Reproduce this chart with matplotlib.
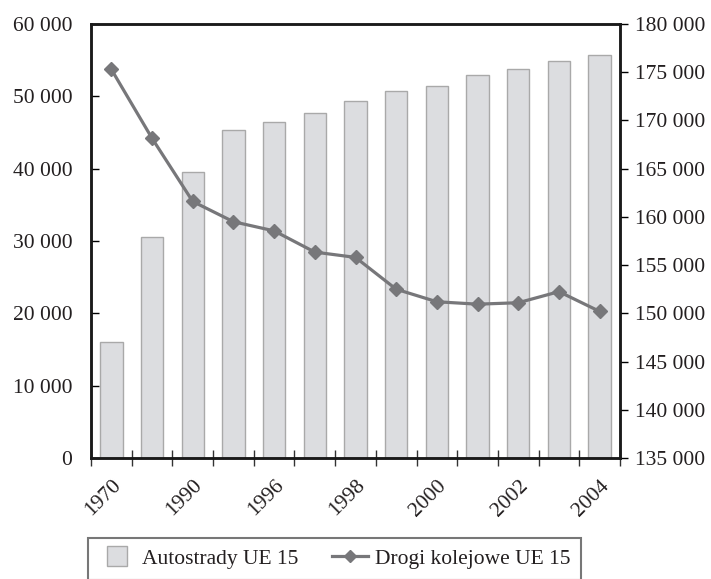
import matplotlib.pyplot as plt
from matplotlib.lines import Line2D
from matplotlib.ticker import FuncFormatter, MultipleLocator
from matplotlib.transforms import ScaledTranslation
import numpy as np

plt.rcParams['font.family'] = ['Liberation Serif', 'DejaVu Serif']

# lata (etykiety co drugi słupek)
lata = ['1970', '1980', '1990', '1995', '1996', '1997', '1998',
        '1999', '2000', '2001', '2002', '2003', '2004']
# długość autostrad UE 15 (km) - oś lewa
autostrady = [16000, 30500, 39600, 45400, 46400, 47650, 49300,
              50700, 51500, 52900, 53750, 54850, 55700]
# długość linii kolejowych UE 15 (km) - oś prawa
koleje = [175300, 168150, 161600, 159500, 158550, 156350, 155800,
          152500, 151200, 150950, 151100, 152250, 150200]

kolor_tekstu = '#231f20'
fmt = FuncFormatter(lambda v, p: f'{v:,.0f}'.replace(',', ' '))

fig = plt.figure(figsize=(7.11, 5.79), dpi=100)
ax = fig.add_axes([0.128, 0.209, 0.744, 0.7495])
ax2 = ax.twinx()

x = np.arange(len(lata))
ax.bar(x, autostrady, width=0.55, color='#dcdde0', edgecolor='#a9a9a9',
       linewidth=1.0, zorder=2)
ax2.plot(x, koleje, color='#77777a', linewidth=2.3, marker='D',
         markersize=7, zorder=3)

ax.set_xlim(-0.5, len(lata) - 0.5)
ax.set_ylim(0, 60000)
ax2.set_ylim(135000, 180000)
ax.yaxis.set_major_locator(MultipleLocator(10000))
ax2.yaxis.set_major_locator(MultipleLocator(5000))
ax.yaxis.set_major_formatter(fmt)
ax2.yaxis.set_major_formatter(fmt)

# ticki na granicach kategorii, podpisy na środku co drugiego słupka
ax.set_xticks(np.arange(len(lata) + 1) - 0.5)
ax.set_xticklabels([])
ax.set_xticks(x[::2], minor=True)
ax.set_xticklabels(lata[::2], minor=True, rotation=45, ha='right',
                   rotation_mode='anchor')
przesun = ScaledTranslation(4 / 72, 0, fig.dpi_scale_trans)
for lab in ax.get_xticklabels(minor=True):
    lab.set_transform(lab.get_transform() + przesun)
ax.tick_params(axis='x', which='major', direction='inout', length=12,
               width=1.0, color='#333333')
ax.tick_params(axis='x', which='minor', length=0, pad=13,
               labelsize=15.5, labelcolor=kolor_tekstu)
ax.tick_params(axis='y', direction='in', length=6, width=1.0,
               labelsize=15.5, labelcolor=kolor_tekstu, pad=13.5)
ax2.tick_params(axis='y', direction='out', length=6, width=1.0,
                labelsize=15.5, labelcolor=kolor_tekstu, pad=5)

for a in (ax, ax2):
    for s in a.spines.values():
        s.set_linewidth(1.8)
        s.set_color('#1a1a1a')

uchwyty = [
    Line2D([], [], linestyle='none', marker='s', markersize=15,
           markerfacecolor='#dcdde0', markeredgecolor='#a9a9a9',
           markeredgewidth=1.0),
    Line2D([], [], color='#77777a', linewidth=2.3, marker='D', markersize=6),
]
leg = fig.legend(uchwyty, ['Autostrady UE 15', 'Drogi kolejowe UE 15'],
                 loc='upper left', bbox_to_anchor=(88 / 711, 1 - 538 / 579),
                 ncol=2, fontsize=15.5, frameon=True, fancybox=False,
                 handlelength=1.7, handletextpad=0.3, columnspacing=1.55,
                 borderpad=0.5, borderaxespad=0)
leg.get_frame().set_edgecolor('#555555')
leg.get_frame().set_linewidth(1.5)
for t in leg.get_texts():
    t.set_color(kolor_tekstu)

fig.savefig('out.png', dpi=100)
